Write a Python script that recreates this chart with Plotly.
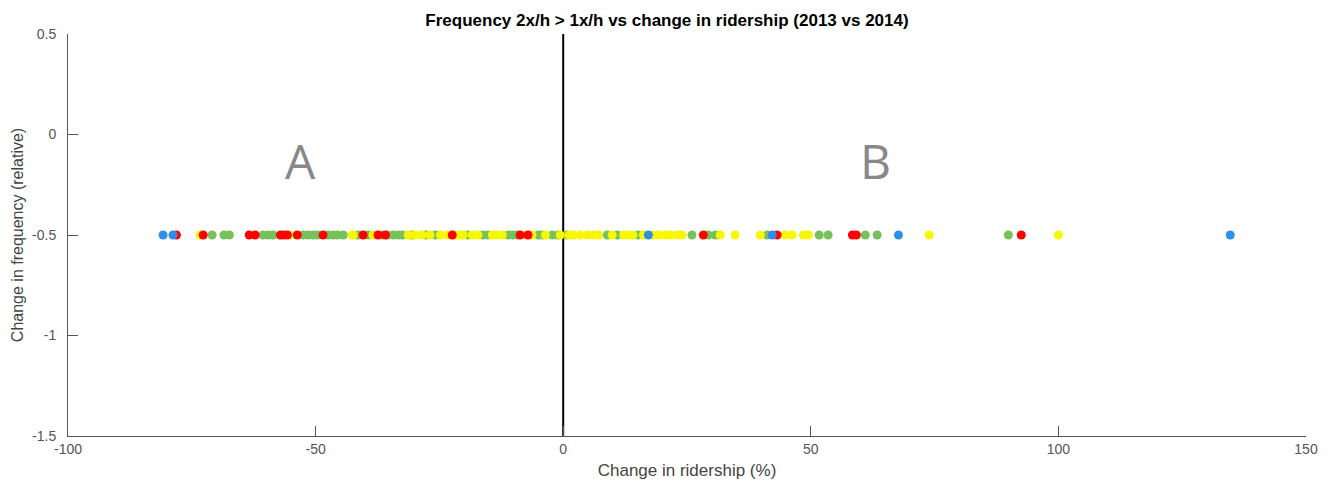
import plotly.graph_objects as go

# Change in ridership (%) per route, grouped by marker colour; all routes at -0.5 frequency change
green_x = [-70.9, -68.5, -67.4, -60.6, -59.6, -58.6, -52.5, -51.5, -50.5, -49.6, -47.5, -46.5,
           -45.6, -44.4, -41.4, -39.4, -36.6, -35.5, -34.3, -33.3, -32.5, -30.6, -27.7, -25.8,
           -19.2, -16.3, -15.3, -11.1, -10.2, -9.3, -5.0, -4.2, -2.2, -1.0, 0.8, 8.9, 10.9,
           15.1, 26.0, 29.3, 30.7, 41.2, 51.7, 53.5, 61.0, 63.4, 89.9]
yellow_x = [-73.3, -55.1, -42.6, -42.4, -38.4, -31.3, -29.9, -28.5, -26.9, -24.8, -23.4, -22.0,
            -21.2, -20.2, -18.4, -17.2, -14.3, -13.3, -12.3, -8.1, -6.3, -3.6, -0.6, 1.2, 2.0,
            3.4, 4.8, 6.1, 7.1, 9.9, 12.2, 13.1, 14.1, 16.2, 18.0, 19.2, 20.6, 21.6, 23.0,
            24.0, 31.7, 34.7, 39.8, 44.8, 46.2, 48.5, 49.5, 73.9, 100.0]
red_x = [-78.1, -72.7, -63.4, -62.2, -57.1, -56.5, -55.7, -53.7, -48.5, -40.4, -37.4, -35.9,
         -22.4, -8.7, -7.1, 28.3, 43.2, 58.4, 59.2, 92.5]
blue_x = [-80.8, -78.8, 17.2, 42.2, 67.7, 134.7]
freq_change = -0.5

x_ticks = [-100, -50, 0, 50, 100, 150]
x_labels = ["-100", "-50", "0", "50", "100", "150"]
y_ticks = [0.5, 0, -0.5, -1, -1.5]
y_labels = ["0.5", "0", "-0.5", "-1", "-1.5"]

groups = [
    (green_x, "#77c15a"),
    (yellow_x, "#f7f700"),
    (red_x, "#ff0000"),
    (blue_x, "#2f8fe8"),
]

fig = go.Figure()

# vertical separator at zero change
fig.add_trace(go.Scatter(x=[0, 0], y=[0.5, -1.5], mode="lines",
                         line=dict(color="black", width=2), hoverinfo="skip",
                         showlegend=False))

for xs, col in groups:
    fig.add_trace(go.Scatter(x=xs, y=[freq_change] * len(xs), mode="markers",
                             marker=dict(color=col, size=9, line=dict(width=0)),
                             showlegend=False))

fig.add_annotation(x=-53, y=-0.13, text="A", showarrow=False,
                   font=dict(family="Open Sans, sans-serif", size=48, color="#888888"))
fig.add_annotation(x=63, y=-0.13, text="B", showarrow=False,
                   font=dict(family="Open Sans, sans-serif", size=48, color="#888888"))

base = "Liberation Sans, Arial, sans-serif"
axis_font = dict(family=base, size=14, color="#555555")
fig.update_layout(
    width=1334, height=488,
    margin=dict(l=68, r=28, t=34, b=52),
    paper_bgcolor="white", plot_bgcolor="white",
    title=dict(text="<b>Frequency 2x/h > 1x/h vs change in ridership (2013 vs 2014)</b>",
               x=0.5, xanchor="center", y=0.958, yanchor="middle",
               font=dict(family=base, size=17, color="black")),
    xaxis=dict(range=[-100, 150], tickvals=x_ticks, ticktext=x_labels, ticks="inside",
               ticklen=10, tickcolor="#555555", showline=True, linecolor="#555555",
               linewidth=1, showgrid=False, zeroline=False, tickfont=axis_font,
               title=dict(text="Change in ridership (%)", standoff=8,
                          font=dict(family=base, size=17, color="#444444"))),
    yaxis=dict(range=[-1.5, 0.5], tickvals=y_ticks, ticktext=y_labels,
               ticks="inside", ticklen=10, tickcolor="#555555", showline=True,
               linecolor="#555555", linewidth=1, showgrid=False, zeroline=False,
               tickfont=axis_font, ticklabelstandoff=8,
               title=dict(text="Change in frequency (relative)", standoff=4,
                          font=dict(family=base, size=16, color="#444444"))),
)

fig.write_html("out.html")
